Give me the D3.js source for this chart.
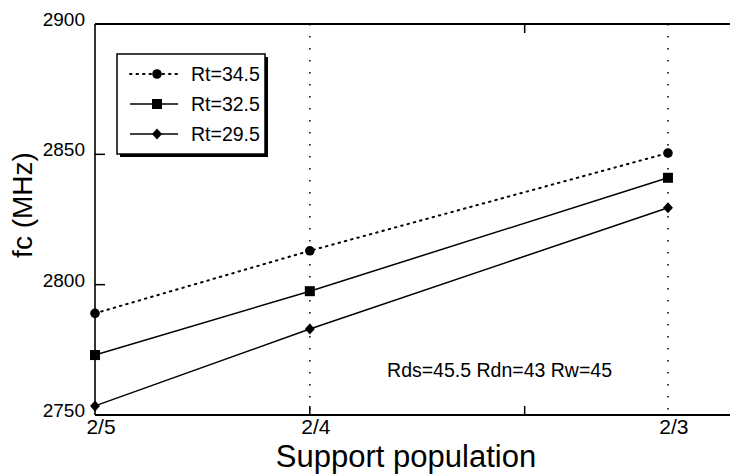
<!DOCTYPE html>
<html>
<head>
<meta charset="utf-8">
<script src="https://cdn.jsdelivr.net/npm/d3@7"></script>
<style>
  body { margin: 0; background: #fff; }
  text { font-family: "Liberation Sans", Arial, Helvetica, sans-serif; fill: #000; }
</style>
</head>
<body>
<svg id="chart" width="730" height="475"></svg>
<script>
// support population (x) and their labels
const xValues = [0.4, 0.5, 0.6667];
const xLabels = ["2/5", "2/4", "2/3"];
const yTicks = [2750, 2800, 2850, 2900];

const seriesNames = ["Rt=34.5", "Rt=32.5", "Rt=29.5"];
const rt345 = [2789, 2813, 2850.5];
const rt325 = [2773, 2797.5, 2841];
const rt295 = [2753.5, 2783, 2829.5];

const note = "Rds=45.5 Rdn=43 Rw=45";

const svg = d3.select("#chart");
const width = 730, height = 475;

const x = d3.scaleLinear().domain([0.4, 0.7]).range([95, 739.5]);
const y = d3.scaleLinear().domain([2750, 2900]).range([415, 24]);

const series = [
  { name: seriesNames[0], values: rt345, dash: "1.5,5", marker: "circle" },
  { name: seriesNames[1], values: rt325, dash: null, marker: "square" },
  { name: seriesNames[2], values: rt295, dash: null, marker: "diamond" }
];

// vertical dotted grid at each support population
svg.append("g")
  .selectAll("line")
  .data(xValues.slice(1))
  .enter().append("line")
  .attr("x1", d => x(d)).attr("x2", d => x(d))
  .attr("y1", y(2900)).attr("y2", y(2750))
  .attr("stroke", "#000")
  .attr("stroke-width", 1.5)
  .attr("stroke-dasharray", "1.5,10.5");

// frame
svg.append("line")
  .attr("x1", x(0.4)).attr("x2", width)
  .attr("y1", y(2900)).attr("y2", y(2900))
  .attr("stroke", "#000").attr("stroke-width", 2);
svg.append("line")
  .attr("x1", x(0.4)).attr("x2", width)
  .attr("y1", y(2750)).attr("y2", y(2750))
  .attr("stroke", "#000").attr("stroke-width", 2);
svg.append("line")
  .attr("x1", x(0.4)).attr("x2", x(0.4))
  .attr("y1", y(2900)).attr("y2", y(2750))
  .attr("stroke", "#000").attr("stroke-width", 1.6);

// y ticks (inward) and labels
svg.append("g")
  .selectAll("line")
  .data(yTicks.slice(1, 3))
  .enter().append("line")
  .attr("x1", x(0.4)).attr("x2", x(0.4) + 10)
  .attr("y1", d => y(d)).attr("y2", d => y(d))
  .attr("stroke", "#000").attr("stroke-width", 1.5);

svg.append("g")
  .selectAll("text")
  .data(yTicks)
  .enter().append("text")
  .attr("x", 85)
  .attr("y", d => y(d) + 2)
  .attr("text-anchor", "end")
  .style("font-size", "19px")
  .text(d => d);

// x ticks
svg.append("g")
  .selectAll("line")
  .data([0.5, 0.6])
  .enter().append("line")
  .attr("x1", d => x(d)).attr("x2", d => x(d))
  .attr("y1", y(2750)).attr("y2", y(2750) - 9)
  .attr("stroke", "#000").attr("stroke-width", 1.5);
svg.append("line")
  .attr("x1", x(0.6)).attr("x2", x(0.6))
  .attr("y1", y(2900)).attr("y2", y(2900) + 9)
  .attr("stroke", "#000").attr("stroke-width", 1.5);

svg.append("g")
  .selectAll("text")
  .data(xValues)
  .enter().append("text")
  .attr("x", d => x(d) + 6)
  .attr("y", 434)
  .attr("text-anchor", "middle")
  .style("font-size", "21px")
  .text((d, i) => xLabels[i]);

// markers
function drawMarker(g, type, cx, cy) {
  if (type === "circle") {
    g.append("circle").attr("cx", cx).attr("cy", cy).attr("r", 4.8).attr("fill", "#000");
  } else if (type === "square") {
    g.append("rect").attr("x", cx - 5).attr("y", cy - 5).attr("width", 10).attr("height", 10).attr("fill", "#000");
  } else {
    g.append("path")
      .attr("d", `M${cx},${cy - 5.5}L${cx + 5},${cy}L${cx},${cy + 5.5}L${cx - 5},${cy}Z`)
      .attr("fill", "#000");
  }
}

const line = d3.line()
  .x((d, i) => x(xValues[i]))
  .y(d => y(d));

series.forEach(s => {
  const g = svg.append("g");
  g.append("path")
    .attr("d", line(s.values))
    .attr("fill", "none")
    .attr("stroke", "#000")
    .attr("stroke-width", s.dash ? 2 : 1.5)
    .attr("stroke-linecap", s.dash ? "round" : "butt")
    .attr("stroke-dasharray", s.dash);
  s.values.forEach((v, i) => drawMarker(g, s.marker, x(xValues[i]), y(v)));
});

// legend with drop shadow
const legend = svg.append("g");
legend.append("rect")
  .attr("x", 120).attr("y", 57).attr("width", 148).attr("height", 100)
  .attr("fill", "#000");
legend.append("rect")
  .attr("x", 117).attr("y", 54).attr("width", 148).attr("height", 100)
  .attr("fill", "#fff").attr("stroke", "#000").attr("stroke-width", 1.5);

series.forEach((s, i) => {
  const ly = 74 + i * 30;
  legend.append("line")
    .attr("x1", 130).attr("x2", 178)
    .attr("y1", ly).attr("y2", ly)
    .attr("stroke", "#000")
    .attr("stroke-width", s.dash ? 2 : 1.5)
    .attr("stroke-linecap", s.dash ? "round" : "butt")
    .attr("stroke-dasharray", s.dash);
  drawMarker(legend, s.marker, 157, ly);
  legend.append("text")
    .attr("x", 191).attr("y", ly + 6.5)
    .style("font-size", "19.5px")
    .text(s.name);
});

// annotation
svg.append("text")
  .attr("x", 612).attr("y", 377)
  .attr("text-anchor", "end")
  .style("font-size", "19.5px")
  .text(note);

// axis titles
svg.append("text")
  .attr("transform", "translate(32,205) rotate(-90)")
  .attr("text-anchor", "middle")
  .style("font-size", "28px")
  .text("fc (MHz)");

svg.append("text")
  .attr("x", 406).attr("y", 467)
  .attr("text-anchor", "middle")
  .style("font-size", "31px")
  .text("Support population");
</script>
</body>
</html>
